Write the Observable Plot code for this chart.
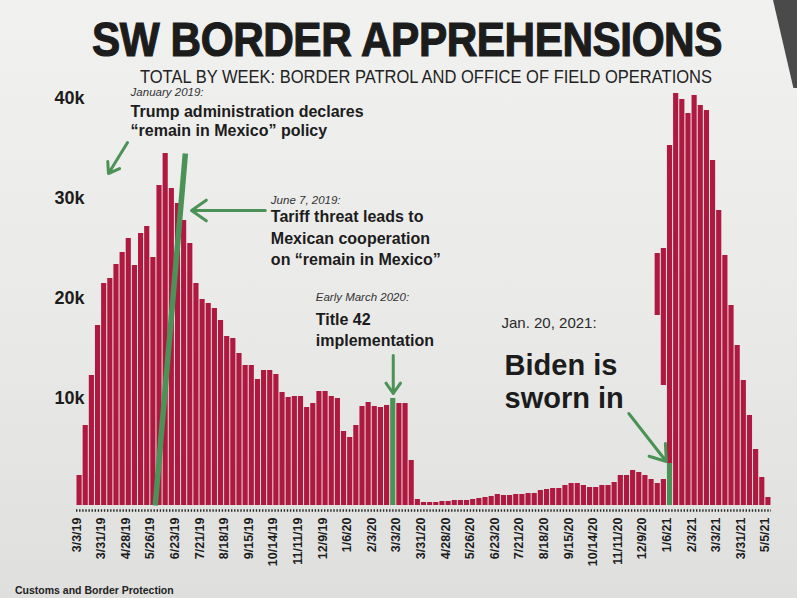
<!DOCTYPE html>
<html>
<head>
<meta charset="utf-8">
<script src="https://cdn.jsdelivr.net/npm/d3@7"></script>
<script src="https://cdn.jsdelivr.net/npm/@observablehq/plot@0.6"></script>
<style>
  html, body { margin: 0; padding: 0; }
  body {
    width: 797px; height: 598px; overflow: hidden; position: relative;
    background: linear-gradient(180deg, #f1f1f0 0%, #e9e9e8 55%, #dfdfde 100%);
    font-family: "Liberation Sans", Arial, sans-serif; color: #1c1c1c;
  }
  #title {
    position: absolute; left: 92px; top: 16.5px; white-space: nowrap;
    font-weight: 700; font-size: 49px; line-height: 45px; letter-spacing: -0.5px;
    transform-origin: 0 0; -webkit-text-stroke: 1.2px #1c1c1c; color: #1c1c1c;
  }
  #subtitle {
    position: absolute; left: 140px; top: 68px; white-space: nowrap;
    font-weight: 400; font-size: 18.5px; line-height: 18px; transform-origin: 0 0; color: #222;
  }
  #chart { position: absolute; left: 0; top: 86px; }
  #caption {
    position: absolute; left: 15px; top: 584px; font-size: 10.5px; font-weight: 700; color: #222;
  }
  #edge {
    position: absolute; right: 0; top: 0; width: 30px; height: 88px; background: #4a4a4a;
    clip-path: polygon(20% 0, 100% 0, 100% 100%, 88% 100%);
  }
  g[aria-label="x-axis tick label"] text, g[aria-label="y-axis tick label"] text { font-weight: 700; }
</style>
</head>
<body>
<div id="edge"></div>
<div id="title">SW BORDER APPREHENSIONS</div>
<div id="subtitle">TOTAL BY WEEK: BORDER PATROL AND OFFICE OF FIELD OPERATIONS</div>
<div id="chart"></div>
<div id="caption">Customs and Border Protection</div>
<script>
// ---- Data (thousands of apprehensions per week, week 0 = 3/3/19) ----
const apprehensionsK = [
  3, 8, 13, 18,
  22.2, 22.7, 24.1, 25.3, 26.7, 24.0, 27.2, 27.9, 24.8, 32.0, 35.2,
  31.7, 30.2, 28.5, 26.2, 22.2, 20.6, 20.2, 19.7, 18.5, 16.9, 16.7, 15.2,
  14.0, 14.0, 12.6, 13.5, 13.5, 13.1, 11.3, 10.8, 10.9, 10.9, 9.8, 10.2,
  11.4, 11.4, 10.9, 10.7, 7.4, 6.8, 8.0, 9.9, 10.3, 9.9, 9.8, 10.0,
  10.7,
  10.2, 10.2, 4.5,
  0.6, 0.3, 0.3, 0.3, 0.4, 0.4, 0.5, 0.5,
  0.5, 0.6, 0.7, 0.8, 0.9, 1.1, 1.0, 1.0, 1.1, 1.1, 1.2, 1.2, 1.5, 1.6, 1.7,
  1.7, 2.0, 2.2, 2.2, 2.0, 1.8, 1.8, 2.0, 2.0, 2.3, 3.0, 3.0, 3.5, 3.3, 3.0,
  2.6, 2.2, 2.6,
  4.2
];
// weeks drawn in green (policy markers)
const markedWeeks = [51, 96];

// the late spike, drawn over the end of the series (floating bottoms as printed)
const spikeStartWeek = 94;
const spikeK =     [25.2, 25.7, 36.0, 41.2, 40.6, 39.2, 41.0, 40.0, 39.5, 34.5, 29.5, 25.0, 20.0, 16.0, 12.5, 9.0, 5.6, 2.8, 0.8];
const spikeBaseK = [19.0, 12.0, 4.2, 0, 0, 0, 0, 0, 0, 0, 0, 0, 0, 0, 0, 0, 0, 0, 0];

// x-axis tick labels
const tickWeeks = [0, 4, 8, 12, 16, 20, 24, 28, 32, 36, 40, 44, 48, 52, 56, 60, 64, 68, 72, 76, 80, 84, 88, 92, 96, 100, 104, 108, 112];
const tickLabels = ["3/3/19","3/31/19","4/28/19","5/26/19","6/23/19","7/21/19","8/18/19","9/15/19","10/14/19","11/11/19","12/9/19","1/6/20","2/3/20","3/3/20","3/31/20","4/28/20","5/26/20","6/23/20","7/21/20","8/18/20","9/15/20","10/14/20","11/11/20","12/9/20","1/6/21","2/3/21","3/3/21","3/31/21","5/5/21"];

// y-axis ticks
const yTicksK = [10, 20, 30, 40];
const yTickLabels = ["10k", "20k", "30k", "40k"];

// June 7, 2019 marker line (week, thousands)
const juneLine = [{w1: 12.8, k1: 0, w2: 17.7, k2: 35.2}];

// annotation text lines, anchored in (week, thousands)
const noteLines = [
  {text: "January 2019:", week: 8.8, k: 41.3, kind: "date"},
  {text: "Trump administration declares", week: 8.8, k: 39.4, kind: "body"},
  {text: "\u201cremain in Mexico\u201d policy", week: 8.8, k: 37.5, kind: "body"},
  {text: "June 7, 2019:", week: 31.6, k: 30.5, kind: "date"},
  {text: "Tariff threat leads to", week: 31.6, k: 28.9, kind: "body"},
  {text: "Mexican cooperation", week: 31.6, k: 26.7, kind: "body"},
  {text: "on \u201cremain in Mexico\u201d", week: 31.6, k: 24.6, kind: "body"},
  {text: "Early March 2020:", week: 38.9, k: 20.8, kind: "date"},
  {text: "Title 42", week: 38.9, k: 18.6, kind: "body"},
  {text: "implementation", week: 38.9, k: 16.5, kind: "body"},
  {text: "Jan. 20, 2021:", week: 69.1, k: 18.2, kind: "plain"},
  {text: "Biden is", week: 69.6, k: 14.0, kind: "big"},
  {text: "sworn in", week: 69.6, k: 10.7, kind: "big"}
];
const noteArrows = [
  {w1: 8.3, k1: 36.3, w2: 5.2, k2: 33.2},
  {w1: 30.7, k1: 29.5, w2: 18.7, k2: 29.5},
  {w1: 51.5, k1: 15.0, w2: 51.5, k2: 11.2},
  {w1: 89.8, k1: 9.2, w2: 95.9, k2: 4.4}
];

// ---- Build ----
const RED = "#b0193f";
const GREEN = "#4b9257";
const INK = "#1c1c1c";

const bars = apprehensionsK.map((k, i) => ({week: i, k, marked: markedWeeks.includes(i)}));
const spike = spikeK.map((k, j) => ({week: spikeStartWeek + j, k, base: spikeBaseK[j]}));
const tickMap = new Map(tickWeeks.map((w, i) => [w, tickLabels[i]]));
const yMap = new Map(yTicksK.map((v, i) => [v, yTickLabels[i]]));

const chart = Plot.plot({
  width: 797,
  height: 495,
  marginLeft: 76,
  marginRight: 26,
  marginTop: 0,
  marginBottom: 76,
  x: {domain: [0, 113], axis: null},
  y: {domain: [0, 41.9], axis: null},
  style: {background: "transparent", fontFamily: "'Liberation Sans', Arial, sans-serif", color: INK, overflow: "visible"},
  marks: [
    Plot.rectY(bars, {x1: "week", x2: d => d.week + 1, y: "k", fill: d => d.marked ? GREEN : RED, insetLeft: 0.5, insetRight: 0.5}),
    Plot.rectY(spike, {x1: "week", x2: d => d.week + 1, y1: "base", y2: "k", fill: RED, insetLeft: 0.5, insetRight: 0.5}),
    Plot.link(juneLine, {x1: "w1", y1: "k1", x2: "w2", y2: "k2", stroke: GREEN, strokeWidth: 5.5, strokeLinecap: "butt"}),
    Plot.ruleY([0], {dy: 5, stroke: "#2a2a2a", strokeWidth: 2.4, strokeDasharray: "1.4 1.7"}),
    Plot.axisX({ticks: tickWeeks, tickFormat: d => tickMap.get(d), tickRotate: -90, tickSize: 0, tickPadding: 12, fontSize: 12.5, fontWeight: "bold", fill: INK, label: null}),
    Plot.axisY({ticks: yTicksK, tickFormat: d => yMap.get(d), tickSize: 0, tickPadding: 0, dx: 8, dy: -7, fontSize: 18, fontWeight: "bold", fill: INK, label: null}),
    Plot.arrow(noteArrows, {x1: "w1", y1: "k1", x2: "w2", y2: "k2", stroke: GREEN, strokeWidth: 3, headLength: 9, headAngle: 70}),
    Plot.text(noteLines.filter(d => d.kind === "date"), {x: "week", y: "k", text: "text", textAnchor: "start", fontSize: 11.5, fontStyle: "italic", fill: "#333"}),
    Plot.text(noteLines.filter(d => d.kind === "plain"), {x: "week", y: "k", text: "text", textAnchor: "start", fontSize: 15, fill: "#2a2a2a"}),
    Plot.text(noteLines.filter(d => d.kind === "body"), {x: "week", y: "k", text: "text", textAnchor: "start", fontSize: 16, fontWeight: "bold", fill: INK}),
    Plot.text(noteLines.filter(d => d.kind === "big"), {x: "week", y: "k", text: "text", textAnchor: "start", fontSize: 29, fontWeight: "bold", fill: INK})
  ]
});
document.getElementById("chart").appendChild(chart);

function fitWidth(id, target) {
  const el = document.getElementById(id);
  const w = el.getBoundingClientRect().width;
  el.style.transform = `scaleX(${target / w})`;
}
fitWidth("title", 630);
fitWidth("subtitle", 572);
</script>
</body>
</html>
